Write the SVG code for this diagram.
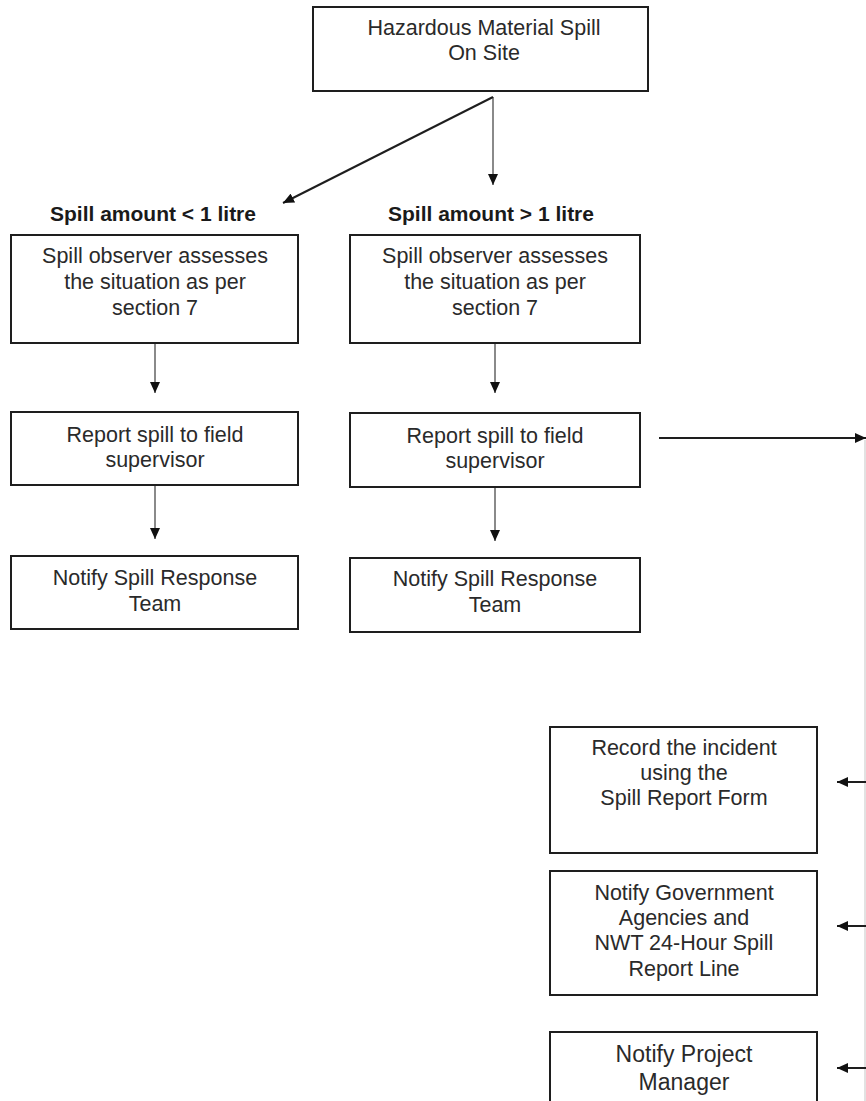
<svg xmlns="http://www.w3.org/2000/svg" width="866" height="1101" viewBox="0 0 866 1101">
<style>
.box{fill:#fff;stroke:#1e1e1e;stroke-width:2}
.t{font-family:"Liberation Sans",Arial,sans-serif;font-size:21.5px;fill:#2a2a2a;text-anchor:middle}
.lbl{font-family:"Liberation Sans",Arial,sans-serif;font-size:21px;font-weight:bold;fill:#1a1a1a;text-anchor:middle}
.g{stroke:#8a8a8a;stroke-width:2;fill:none}
.k{stroke:#1e1e1e;stroke-width:2;fill:none}
</style>
<defs>
<marker id="ah" markerUnits="userSpaceOnUse" markerWidth="12" markerHeight="10" refX="11" refY="5" orient="auto">
<path d="M0,0 L11,5 L0,10 Z" fill="#111"/>
</marker>
</defs>
<rect width="866" height="1101" fill="#fff"/>

<g id="connectors">
<line class="g" x1="493" y1="97" x2="493" y2="185" marker-end="url(#ah)"/>
<line class="k" x1="493" y1="97" x2="283" y2="203" marker-end="url(#ah)"/>
<line class="g" x1="155" y1="343" x2="155" y2="393" marker-end="url(#ah)"/>
<line class="g" x1="155" y1="485" x2="155" y2="539" marker-end="url(#ah)"/>
<line class="g" x1="495" y1="343" x2="495" y2="393" marker-end="url(#ah)"/>
<line class="g" x1="495" y1="487" x2="495" y2="541" marker-end="url(#ah)"/>
<line class="k" x1="659" y1="438" x2="866" y2="438" marker-end="url(#ah)"/>
<line x1="865" y1="440" x2="865" y2="1101" stroke="#e2e2e2" stroke-width="2"/>
<line class="k" x1="866" y1="782" x2="837" y2="782" marker-end="url(#ah)"/>
<line class="k" x1="866" y1="926" x2="837" y2="926" marker-end="url(#ah)"/>
<line class="k" x1="866" y1="1068" x2="837" y2="1068" marker-end="url(#ah)"/>
</g>

<g id="start">
<rect class="box" x="313" y="7" width="335" height="84"/>
<text class="t" x="484" y="35">Hazardous Material Spill</text>
<text class="t" x="484" y="60">On Site</text>
</g>

<g id="label-small">
<text class="lbl" x="153" y="221">Spill amount &lt; 1 litre</text>
</g>
<g id="label-large">
<text class="lbl" x="491" y="221">Spill amount &gt; 1 litre</text>
</g>

<g id="assess-small">
<rect class="box" x="11" y="235" width="287" height="108"/>
<text class="t" x="155" y="263">Spill observer assesses</text>
<text class="t" x="155" y="289">the situation as per</text>
<text class="t" x="155" y="315">section 7</text>
</g>
<g id="report-small">
<rect class="box" x="11" y="412" width="287" height="73"/>
<text class="t" x="155" y="442">Report spill to field</text>
<text class="t" x="155" y="467">supervisor</text>
</g>
<g id="notify-small">
<rect class="box" x="11" y="556" width="287" height="73"/>
<text class="t" x="155" y="585">Notify Spill Response</text>
<text class="t" x="155" y="611">Team</text>
</g>

<g id="assess-large">
<rect class="box" x="350" y="235" width="290" height="108"/>
<text class="t" x="495" y="263">Spill observer assesses</text>
<text class="t" x="495" y="289">the situation as per</text>
<text class="t" x="495" y="315">section 7</text>
</g>
<g id="report-large">
<rect class="box" x="350" y="413" width="290" height="74"/>
<text class="t" x="495" y="443">Report spill to field</text>
<text class="t" x="495" y="468">supervisor</text>
</g>
<g id="notify-large">
<rect class="box" x="350" y="558" width="290" height="74"/>
<text class="t" x="495" y="586">Notify Spill Response</text>
<text class="t" x="495" y="612">Team</text>
</g>

<g id="record">
<rect class="box" x="550" y="727" width="267" height="126"/>
<text class="t" x="684" y="755">Record the incident</text>
<text class="t" x="684" y="780">using the</text>
<text class="t" x="684" y="805">Spill Report Form</text>
</g>
<g id="government">
<rect class="box" x="550" y="871" width="267" height="124"/>
<text class="t" x="684" y="900">Notify Government</text>
<text class="t" x="684" y="925">Agencies and</text>
<text class="t" x="684" y="950">NWT 24-Hour Spill</text>
<text class="t" x="684" y="976">Report Line</text>
</g>
<g id="project-manager">
<rect class="box" x="550" y="1032" width="267" height="80"/>
<text class="t" x="684" y="1062" style="font-size:23px">Notify Project</text>
<text class="t" x="684" y="1090" style="font-size:23px">Manager</text>
</g>
</svg>
